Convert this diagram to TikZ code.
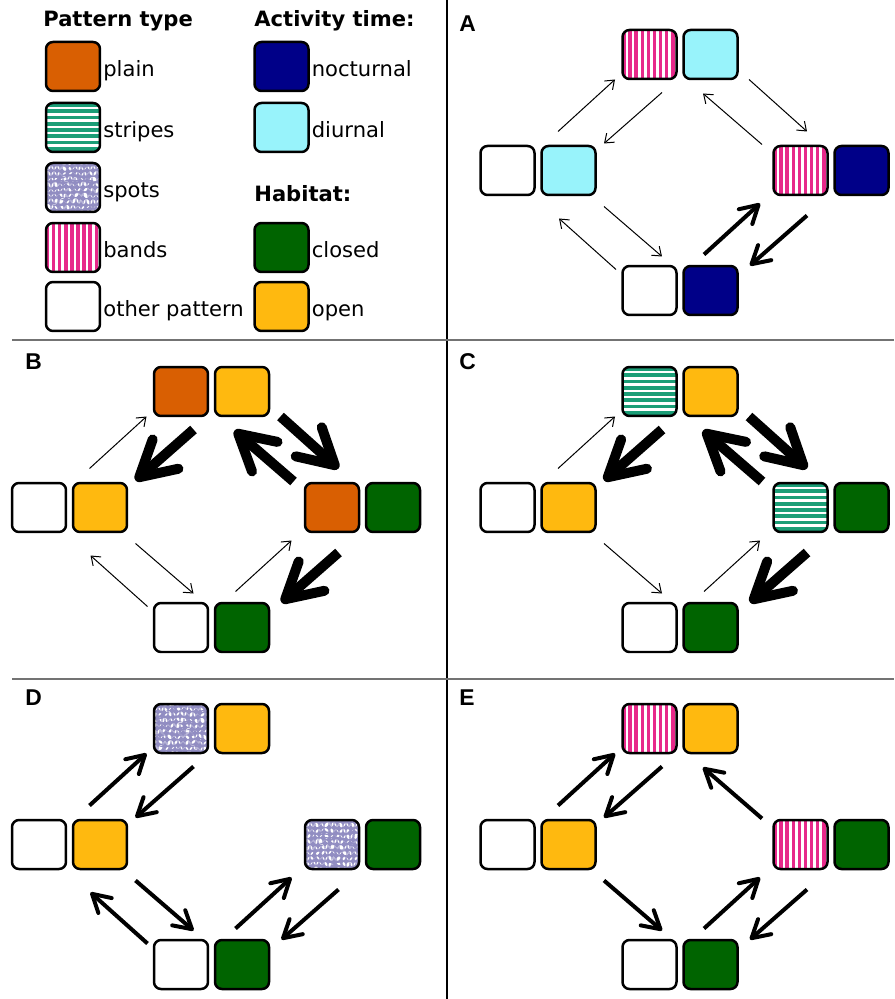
\documentclass[tikz,border=0pt]{standalone}
\usepackage{fontspec}
\setmainfont{DejaVu Sans}
\newfontfamily\letterfont{Liberation Sans}
\usetikzlibrary{arrows.meta, positioning, calc}

\definecolor{plaincol}{HTML}{D95F02}
\definecolor{stripecol}{HTML}{1B9E77}
\definecolor{spotcol}{HTML}{7570B3}
\definecolor{bandcol}{HTML}{E7298A}
\definecolor{nightcol}{HTML}{000088}
\definecolor{daycol}{HTML}{98F3FB}
\definecolor{closedcol}{HTML}{006400}
\definecolor{opencol}{HTML}{FFB90F}

\tikzset{
  box/.style={draw=black, line width=0.05cm, rounded corners=0.14cm,
    minimum width=1.08cm, minimum height=0.98cm, inner sep=0pt, outer sep=0pt},
  plainbox/.style={box, fill=plaincol},
  otherbox/.style={box, fill=white},
  nightbox/.style={box, fill=nightcol},
  daybox/.style={box, fill=daycol},
  closedbox/.style={box, fill=closedcol},
  openbox/.style={box, fill=opencol},
  stripebox/.style={box, fill=white, path picture={
      \foreach \k in {0,...,8}
        \draw[stripecol, line width=0.075cm]
          ([yshift=-0.04cm-\k*0.125cm]path picture bounding box.north west) -- ++(1.2cm,0);}},
  bandbox/.style={box, fill=white, path picture={
      \foreach \k in {0,...,9}
        \draw[bandcol, line width=0.07cm]
          ([xshift=0.03cm+\k*0.122cm]path picture bounding box.north west) -- ++(0,-1.1cm);}},
  spotbox/.style={box, fill=white, path picture={
      \foreach \j in {0,...,8}
        \foreach \i in {0,...,9}
          \fill[spotcol!80] ([xshift={(\i*6+mod(\j,2)*3+round(rand)+1.4)*0.02cm}, yshift={-(\j*5.6+1.4+round(rand))*0.02cm}]path picture bounding box.north west)
            rectangle ++(0.024cm,-0.024cm);}},
  legtext/.style={anchor=base west, inner sep=0pt, font=\fontsize{12pt}{14pt}\selectfont},
  head/.style={legtext, font=\fontsize{12pt}{14pt}\selectfont\bfseries},
  letter/.style={anchor=base west, inner sep=0pt, font=\fontsize{13pt}{15pt}\selectfont\letterfont\bfseries},
  thinarr/.style={line width=0.02cm, -{Straight Barb[length=0.16cm, width=0.24cm]}},
  midarr/.style={line width=0.08cm, -{Straight Barb[round, length=0.35cm, width=0.40cm]}},
  thickarr/.style={line width=0.2cm, -{Straight Barb[round, length=0.7cm, width=0.78cm]}},
  divline/.style={black, line width=0.6pt},
  hline/.style={black!55, line width=0.75pt}
}

% two boxes side by side round a named point
\newcommand{\pair}[4]{%
  \coordinate (#1) at #2;
  \node[#3] (#1a) at ($(#1)+(-30.5,0)$) {};
  \node[#4] (#1b) at ($(#1)+(30.5,0)$) {};
}
% the four pairs of one panel: top, left, right, bottom
\newcommand{\panelpairs}[7]{%
  \coordinate (#1) at #2;
  \pair{#1T}{($(#1)+(0,0)$)}{#3}{#4}
  \pair{#1L}{($(#1)+(-142,116)$)}{otherbox}{#5}
  \pair{#1R}{($(#1)+(151,116)$)}{#3}{#6}
  \pair{#1B}{($(#1)+(0,236)$)}{otherbox}{#7}
}
% transition arrows
\newcommand{\arrLT}[2]{\draw[#2] ([shift={(20,-39)}]#1L.center) -- ([shift={(-65,25)}]#1T.center);}
\newcommand{\arrTL}[2]{\draw[#2] ([shift={(-18,38)}]#1T.center) -- ([shift={(66,-27)}]#1L.center);}
\newcommand{\arrRT}[2]{\draw[#2] ([shift={(-69,-26)}]#1R.center) -- ([shift={(23,39)}]#1T.center);}
\newcommand{\arrTR}[2]{\draw[#2] ([shift={(69,25)}]#1T.center) -- ([shift={(-24,-39)}]#1R.center);}
\newcommand{\arrLB}[2]{\draw[#2] ([shift={(66,36)}]#1L.center) -- ([shift={(-18,-34)}]#1B.center);}
\newcommand{\arrBL}[2]{\draw[#2] ([shift={(-64,-21)}]#1B.center) -- ([shift={(21,48)}]#1L.center);}
\newcommand{\arrBR}[2]{\draw[#2] ([shift={(24,-36)}]#1B.center) -- ([shift={(-71,33)}]#1R.center);}
\newcommand{\arrRB}[2]{\draw[#2] ([shift={(-24,45)}]#1R.center) -- ([shift={(70,-25)}]#1B.center);}

\begin{document}
\begin{tikzpicture}[x=0.02cm, y=-0.02cm]
  \useasboundingbox (0,0) rectangle (894,999);
  \pgfmathsetseed{7}
  % panel dividers
  \draw[divline] (447,0) -- (447,999);
  \draw[hline] (12,340) -- (894,340);
  \draw[hline] (12,679) -- (894,679);

  % legend
  \node[head] (htype) at (43,27) {Pattern type};
  \node[head] (htime) at (254,27) {Activity time:};
  \node[head] (hhab) at (254,202) {Habitat:};
  \node[plainbox] (lplain) at (73,66.5) {};
  \node[stripebox] (lstripes) at (73,127.5) {};
  \node[spotbox] (lspots) at (73,187.5) {};
  \node[bandbox] (lbands) at (73,247.5) {};
  \node[otherbox] (lother) at (73,306.5) {};
  \node[nightbox] (lnight) at (281.5,66.5) {};
  \node[daybox] (lday) at (281.5,127.5) {};
  \node[closedbox] (lclosed) at (281.5,247.5) {};
  \node[openbox] (lopen) at (281.5,306.5) {};
  \node[legtext] at ([shift={(3,10)}]lplain.east) {plain};
  \node[legtext] at ([shift={(3,10)}]lstripes.east) {stripes};
  \node[legtext] at ([shift={(3,10)}]lspots.east) {spots};
  \node[legtext] at ([shift={(3,10)}]lbands.east) {bands};
  \node[legtext] at ([shift={(3,10)}]lother.east) {other pattern};
  \node[legtext] at ([shift={(3,10)}]lnight.east) {nocturnal};
  \node[legtext] at ([shift={(3,10)}]lday.east) {diurnal};
  \node[legtext] at ([shift={(3,10)}]lclosed.east) {closed};
  \node[legtext] at ([shift={(3,10)}]lopen.east) {open};

  % A
  \node[letter] at (459,32) {A};
  \panelpairs{a}{(680,54.5)}{bandbox}{daybox}{daybox}{nightbox}{nightbox}
  \arrLT{a}{thinarr} \arrTL{a}{thinarr} \arrRT{a}{thinarr} \arrTR{a}{thinarr}
  \arrLB{a}{thinarr} \arrBL{a}{thinarr} \arrBR{a}{midarr} \arrRB{a}{midarr}

  % B
  \node[letter] at (25,370) {B};
  \panelpairs{b}{(211.5,391.5)}{plainbox}{openbox}{openbox}{closedbox}{closedbox}
  \arrLT{b}{thinarr} \arrTL{b}{thickarr} \arrRT{b}{thickarr} \arrTR{b}{thickarr}
  \arrLB{b}{thinarr} \arrBL{b}{thinarr} \arrBR{b}{thinarr} \arrRB{b}{thickarr}

  % C
  \node[letter] at (459,370) {C};
  \panelpairs{c}{(680,391.5)}{stripebox}{openbox}{openbox}{closedbox}{closedbox}
  \arrLT{c}{thinarr} \arrTL{c}{thickarr} \arrRT{c}{thickarr} \arrTR{c}{thickarr}
  \arrLB{c}{thinarr} \arrBR{c}{thinarr} \arrRB{c}{thickarr}

  % D
  \node[letter] at (25,705) {D};
  \panelpairs{d}{(211.5,728.5)}{spotbox}{openbox}{openbox}{closedbox}{closedbox}
  \arrLT{d}{midarr} \arrTL{d}{midarr}
  \arrLB{d}{midarr} \arrBL{d}{midarr} \arrBR{d}{midarr} \arrRB{d}{midarr}

  % E
  \node[letter] at (459,705) {E};
  \panelpairs{e}{(680,728.5)}{bandbox}{openbox}{openbox}{closedbox}{closedbox}
  \arrLT{e}{midarr} \arrTL{e}{midarr} \arrRT{e}{midarr}
  \arrLB{e}{midarr} \arrBR{e}{midarr} \arrRB{e}{midarr}
\end{tikzpicture}
\end{document}
